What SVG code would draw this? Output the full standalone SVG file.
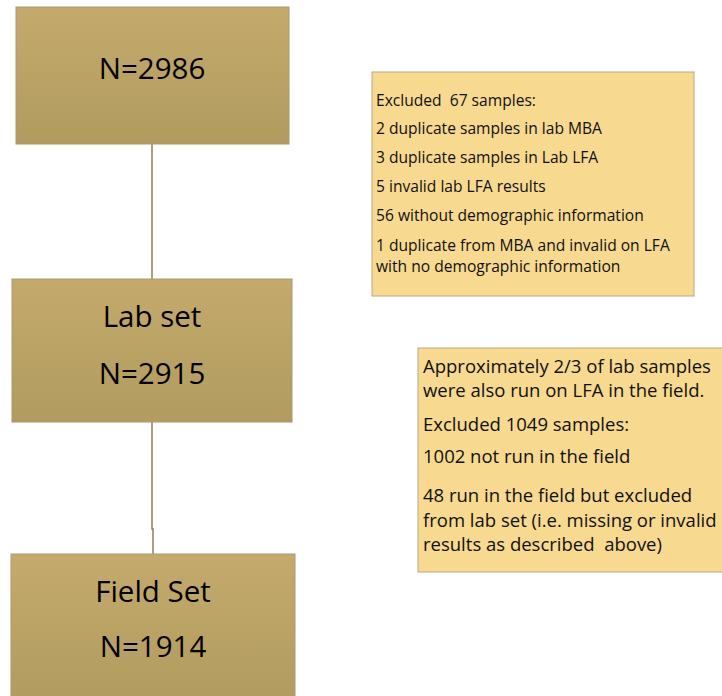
<svg xmlns="http://www.w3.org/2000/svg" width="722" height="696" viewBox="0 0 722 696">
<style>
.main{stroke:#a8997a;stroke-width:1}
.note{fill:#f7d990;stroke:#b8a98c;stroke-width:1}
.big{font-family:"Open Sans","Liberation Sans",sans-serif;font-size:29.5px;fill:#000;text-anchor:middle}
.t1{font-family:"Open Sans","Liberation Sans",sans-serif;font-size:15.6px;fill:#111}
.t2{font-family:"Open Sans","Liberation Sans",sans-serif;font-size:18.5px;fill:#111}
.conn{stroke:#8f805c;stroke-width:1.5;fill:none}
</style>
<defs>
<linearGradient id="g" x1="0" y1="0" x2="0" y2="1">
<stop offset="0" stop-color="#c4aa6c"/>
<stop offset="1" stop-color="#b19b5f"/>
</linearGradient>
</defs>
<rect width="722" height="696" fill="#fff"/>
<g id="connectors">
<path class="conn" d="M152 144 V279"/>
<path class="conn" d="M152 422 V529 H153 V554"/>
</g>
<g id="n2986">
<rect class="main" x="16" y="7" width="273" height="137" fill="url(#g)"/>
<text class="big" x="152" y="79">N=2986</text>
</g>
<g id="labset">
<rect class="main" x="12" y="279" width="280" height="143" fill="url(#g)"/>
<text class="big" x="152" y="327">Lab set</text>
<text class="big" x="152" y="384">N=2915</text>
</g>
<g id="fieldset">
<rect class="main" x="11" y="554" width="284" height="150" fill="url(#g)"/>
<text class="big" x="153" y="602">Field Set</text>
<text class="big" x="153" y="657">N=1914</text>
</g>
<g id="excl1">
<rect class="note" x="372" y="72" width="322" height="224"/>
<text class="t1" x="376" y="106" xml:space="preserve">Excluded  67 samples:</text>
<text class="t1" x="376" y="134">2 duplicate samples in lab MBA</text>
<text class="t1" x="376" y="163">3 duplicate samples in Lab LFA</text>
<text class="t1" x="376" y="192">5 invalid lab LFA results</text>
<text class="t1" x="376" y="221">56 without demographic information</text>
<text class="t1" x="376" y="251">1 duplicate from MBA and invalid on LFA</text>
<text class="t1" x="376" y="272">with no demographic information</text>
</g>
<g id="excl2">
<rect class="note" x="418" y="348" width="310" height="224"/>
<text class="t2" x="423" y="373">Approximately 2/3 of lab samples</text>
<text class="t2" x="423" y="397">were also run on LFA in the field.</text>
<text class="t2" x="423" y="431">Excluded 1049 samples:</text>
<text class="t2" x="423" y="463">1002 not run in the field</text>
<text class="t2" x="423" y="502">48 run in the field but excluded</text>
<text class="t2" x="423" y="527">from lab set (i.e. missing or invalid</text>
<text class="t2" x="423" y="551" xml:space="preserve">results as described  above)</text>
</g>
</svg>
